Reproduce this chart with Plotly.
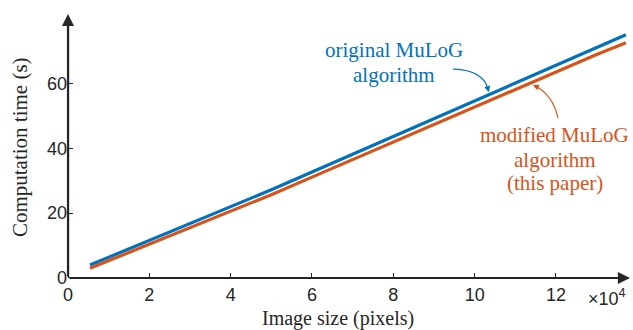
import plotly.graph_objects as go

# Data
image_size = [5400, 10000, 20000, 30000, 40000, 50000, 60000, 70000,
              80000, 90000, 100000, 110000, 120000, 130000, 137200]
time_original = [4.0, 6.4, 11.6, 16.8, 22.0, 27.2, 32.7, 38.2,
                 43.7, 49.2, 54.7, 60.2, 65.7, 71.2, 75.0]
time_modified = [3.0, 5.35, 10.45, 15.5, 20.6, 25.7, 31.1, 36.5,
                 41.9, 47.3, 52.7, 58.1, 63.5, 68.9, 72.5]
x_tick_vals = [0, 20000, 40000, 60000, 80000, 100000, 120000]
x_tick_text = ["0", "2", "4", "6", "8", "10", "12"]
y_tick_vals = [0, 20, 40, 60]

BLUE = "#0072BD"
ORANGE = "#D95319"
AX = "#262626"
SERIF = "Liberation Serif, Times New Roman, serif"
SANS = "Liberation Sans, Arial, sans-serif"

XMAX = 138200
YMAX = 81.4

fig = go.Figure()
fig.add_trace(go.Scatter(x=image_size, y=time_original, mode="lines",
                         line=dict(color=BLUE, width=3.2), showlegend=False))
fig.add_trace(go.Scatter(x=image_size, y=time_modified, mode="lines",
                         line=dict(color=ORANGE, width=3.2), showlegend=False))

fig.update_layout(
    width=633, height=330,
    margin=dict(l=68, r=3, t=14, b=52),
    paper_bgcolor="white", plot_bgcolor="white",
    font=dict(family=SANS, size=18, color=AX),
    xaxis=dict(range=[0, XMAX], showgrid=False, zeroline=False, showline=False,
               tickmode="array", tickvals=x_tick_vals, ticktext=x_tick_text,
               ticks="inside", ticklen=5, tickwidth=1, tickcolor=AX,
               ticklabelstandoff=4,
               tickfont=dict(family=SANS, size=18, color=AX)),
    yaxis=dict(range=[0, YMAX], showgrid=False, zeroline=False, showline=False,
               tickmode="array", tickvals=y_tick_vals,
               ticks="inside", ticklen=5, tickwidth=1, tickcolor=AX,
               tickfont=dict(family=SANS, size=18, color=AX)),
)

annotations = []
# axis arrows
annotations.append(dict(x=XMAX, y=0, ax=0, ay=0, xref="x", yref="y", axref="x", ayref="y",
                        text="", showarrow=True, arrowhead=2, arrowsize=1.1, arrowwidth=2.2,
                        arrowcolor=AX, standoff=0, startstandoff=0))
annotations.append(dict(x=0, y=YMAX, ax=0, ay=0, xref="x", yref="y", axref="x", ayref="y",
                        text="", showarrow=True, arrowhead=2, arrowsize=1.1, arrowwidth=2.2,
                        arrowcolor=AX, standoff=0, startstandoff=0))
# axis titles
annotations.append(dict(x=0.48, y=0, xref="paper", yref="paper", yshift=-40,
                        xanchor="center", yanchor="middle", showarrow=False,
                        text="Image size (pixels)", font=dict(family=SERIF, size=20, color=AX)))
annotations.append(dict(x=0, y=0.496, xref="paper", yref="paper", xshift=-48,
                        xanchor="center", yanchor="middle", showarrow=False, textangle=-90,
                        text="Computation time (s)", font=dict(family=SERIF, size=21, color=AX)))
# exponent label
annotations.append(dict(x=0.922, y=0, xref="paper", yref="paper", yshift=-19,
                        xanchor="left", yanchor="middle", showarrow=False,
                        text="×10<sup>4</sup>", font=dict(family=SANS, size=18, color=AX)))
# series labels
for txt, yy in [("original MuLoG", 70.3), ("algorithm", 62.6)]:
    annotations.append(dict(x=80200, y=yy, xref="x", yref="y", xanchor="center",
                            yanchor="middle", showarrow=False, text=txt,
                            font=dict(family=SERIF, size=21, color=BLUE)))
for txt, yy in [("modified MuLoG", 44.1), ("algorithm", 36.4), ("(this paper)", 29.3)]:
    annotations.append(dict(x=119700, y=yy, xref="x", yref="y", xanchor="center",
                            yanchor="middle", showarrow=False, text=txt,
                            font=dict(family=SERIF, size=21, color=ORANGE)))
# arrowheads for curved pointers
annotations.append(dict(x=103500, y=57.3, xref="x", yref="y", ax=-2, ay=-7,
                        text="", showarrow=True, arrowhead=2, arrowsize=1, arrowwidth=1.2,
                        arrowcolor=BLUE, standoff=0))
annotations.append(dict(x=114300, y=59.5, xref="x", yref="y", ax=7, ay=3,
                        text="", showarrow=True, arrowhead=2, arrowsize=1, arrowwidth=1.2,
                        arrowcolor=ORANGE, standoff=0))
fig.update_layout(annotations=annotations)

shapes = [
    dict(type="path", xref="x", yref="y", path="M 94700,64.4 Q 102300,64.1 103300,58.0",
         line=dict(color=BLUE, width=1.2)),
    dict(type="path", xref="x", yref="y", path="M 120500,49.3 Q 119300,56.4 114800,59.3",
         line=dict(color=ORANGE, width=1.2)),
    # axis lines
    dict(type="line", xref="x", yref="y", x0=0, y0=0, x1=XMAX - 1500, y1=0,
         line=dict(color=AX, width=2.2)),
    dict(type="line", xref="x", yref="y", x0=0, y0=0, x1=0, y1=YMAX - 1.5,
         line=dict(color=AX, width=2.2)),
]
fig.update_layout(shapes=shapes)

fig.write_html("out.html")
